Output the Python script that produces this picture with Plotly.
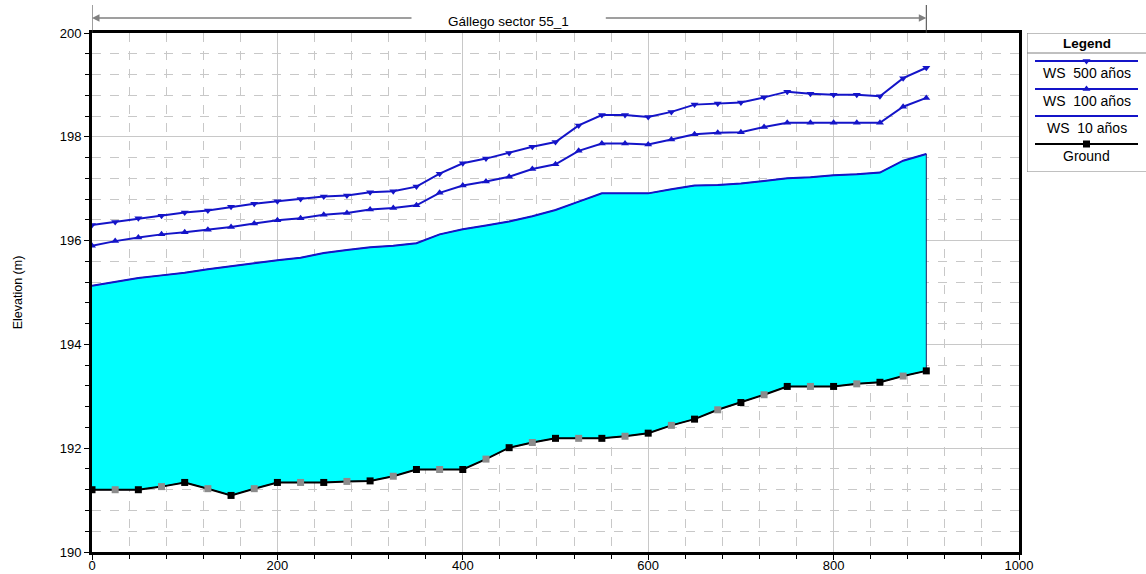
import plotly.graph_objects as go

# ---- data ----
station = [i * 25 for i in range(37)]
ground = [191.2, 191.2, 191.2, 191.26, 191.34, 191.22, 191.09, 191.22, 191.34, 191.34,
          191.34, 191.36, 191.37, 191.46, 191.59, 191.59, 191.59, 191.79, 192.01, 192.11,
          192.19, 192.19, 192.19, 192.23, 192.29, 192.44, 192.56, 192.74, 192.88, 193.03,
          193.19, 193.19, 193.19, 193.24, 193.27, 193.39, 193.49]
ws10 = [195.13, 195.21, 195.28, 195.33, 195.38, 195.45, 195.51, 195.56, 195.62, 195.67,
        195.76, 195.82, 195.87, 195.90, 195.95, 196.12, 196.22, 196.29, 196.37, 196.47,
        196.59, 196.75, 196.91, 196.91, 196.91, 196.99, 197.06, 197.07, 197.10, 197.15,
        197.20, 197.22, 197.26, 197.28, 197.31, 197.54, 197.67]
ws100 = [195.90, 195.99, 196.06, 196.12, 196.16, 196.21, 196.26, 196.33, 196.39, 196.43,
         196.50, 196.53, 196.60, 196.63, 196.68, 196.92, 197.06, 197.14, 197.23, 197.38,
         197.47, 197.73, 197.87, 197.87, 197.85, 197.95, 198.05, 198.08, 198.09, 198.19,
         198.27, 198.27, 198.27, 198.27, 198.27, 198.58, 198.75]
ws500 = [196.30, 196.36, 196.43, 196.48, 196.54, 196.58, 196.65, 196.71, 196.76, 196.80,
         196.85, 196.87, 196.93, 196.95, 197.04, 197.29, 197.49, 197.58, 197.69, 197.81,
         197.90, 198.22, 198.42, 198.42, 198.38, 198.48, 198.62, 198.64, 198.66, 198.76,
         198.87, 198.83, 198.81, 198.81, 198.78, 199.13, 199.33]
title_text = "Gállego sector 55_1"
legend_labels = ["WS  500 años", "WS  100 años", "WS  10 años", "Ground"]

BLUE = "#1414c8"
FONT = "Liberation Sans, Arial, sans-serif"

W, H = 1146, 574
ML, MR, MT, MB = 92, 0, 33, 22
PW = W - ML - MR
PH = H - MT - MB


def py(p):
    """pixel row -> paper y"""
    return (H - MB - p) / PH


fig = go.Figure()

# water fill polygon (cyan between ground and WS 10)
fig.add_trace(go.Scatter(
    x=station + station[::-1], y=ws10 + ground[::-1],
    fill="toself", fillcolor="#00FFFF", mode="lines",
    line=dict(color="#202060", width=1), hoverinfo="skip", showlegend=False))

fig.add_trace(go.Scatter(x=station, y=ws10, mode="lines",
                         line=dict(color=BLUE, width=2), showlegend=False))
fig.add_trace(go.Scatter(x=station, y=ws100, mode="lines+markers",
                         line=dict(color=BLUE, width=2),
                         marker=dict(symbol="triangle-up", size=7, color=BLUE),
                         showlegend=False))
fig.add_trace(go.Scatter(x=station, y=ws500, mode="lines+markers",
                         line=dict(color=BLUE, width=2),
                         marker=dict(symbol="triangle-down", size=7, color=BLUE),
                         showlegend=False))
ground_colors = ["#000000" if i % 2 == 0 else "#8c8c8c" for i in range(len(station))]
fig.add_trace(go.Scatter(x=station, y=ground, mode="lines+markers",
                         line=dict(color="#000000", width=2),
                         marker=dict(symbol="square", size=7, color=ground_colors),
                         showlegend=False))

# ---- custom legend in an overlay axis (pixel-like coordinates) ----
leg_line_y = [61, 89, 116, 144]
leg_text_y = [73, 101, 128, 156]
leg_colors = [BLUE, BLUE, BLUE, "#000000"]
leg_syms = ["triangle-down", "triangle-up", None, "square"]
for ly, c, s in zip(leg_line_y, leg_colors, leg_syms):
    fig.add_trace(go.Scatter(x=[1035, 1138], y=[ly, ly], mode="lines",
                             line=dict(color=c, width=2), xaxis="x2", yaxis="y2",
                             showlegend=False, hoverinfo="skip"))
    if s:
        fig.add_trace(go.Scatter(x=[1086.5], y=[ly], mode="markers",
                                 marker=dict(symbol=s, size=7, color=c),
                                 xaxis="x2", yaxis="y2", showlegend=False,
                                 hoverinfo="skip"))

annotations = []
annotations.append(dict(x=1086.5, y=43, xref="x2", yref="y2", text="<b>Legend</b>",
                        showarrow=False, yanchor="middle",
                        font=dict(family=FONT, size=13.5, color="#000")))
for ty, lab in zip(leg_text_y, legend_labels):
    annotations.append(dict(x=1086.5, y=ty, xref="x2", yref="y2", text=lab,
                            showarrow=False, yanchor="middle",
                            font=dict(family=FONT, size=14, color="#000")))

# title with arrows
annotations.append(dict(x=449, y=py(21.5), xref="x", yref="paper", text=title_text,
                        showarrow=False, yanchor="middle", xanchor="center",
                        font=dict(family=FONT, size=13.5, color="#000")))
annotations.append(dict(x=0, y=py(18), xref="x", yref="paper", text="",
                        showarrow=True, ax=321, ay=0, arrowhead=2, arrowsize=1,
                        arrowwidth=1.5, arrowcolor="#808080"))
annotations.append(dict(x=900, y=py(18), xref="x", yref="paper", text="",
                        showarrow=True, ax=-322, ay=0, arrowhead=2, arrowsize=1,
                        arrowwidth=1.5, arrowcolor="#808080"))

shapes = [
    # legend box
    dict(type="rect", xref="x2", yref="y2", x0=1027, x1=1146.5, y0=33, y1=172,
         line=dict(color="#808080", width=1)),
    dict(type="line", xref="x2", yref="y2", x0=1027, x1=1146.5, y0=53, y1=53,
         line=dict(color="#808080", width=1)),
    # vertical reach markers above plot
    dict(type="line", xref="x", yref="paper", x0=0, x1=0, y0=1, y1=py(5),
         line=dict(color="#404040", width=1)),
    dict(type="line", xref="x", yref="paper", x0=900, x1=900, y0=1, y1=py(5),
         line=dict(color="#404040", width=1)),
]

grid_c = "#c8c8c8"
tickfont = dict(family=FONT, size=13, color="#000")
fig.update_layout(
    width=W, height=H, autosize=False,
    margin=dict(l=ML, r=MR, t=MT, b=MB, pad=0, autoexpand=False),
    paper_bgcolor="white", plot_bgcolor="white",
    font=dict(family=FONT, size=12, color="#000"),
    showlegend=False,
    xaxis=dict(domain=[0, 927 / PW], range=[0, 1000], dtick=200, tick0=0,
               automargin=False, ticklabelstandoff=-6,
               showgrid=True, gridcolor=grid_c, gridwidth=1,
               ticks="outside", ticklen=5, tickcolor="#000",
               showline=True, linecolor="#000", linewidth=3, mirror=True,
               zeroline=False,
               minor=dict(dtick=40, showgrid=True, gridcolor=grid_c, griddash="dash",
                          ticks="outside", ticklen=4, tickcolor="#000"),
               tickfont=tickfont),
    yaxis=dict(range=[190, 200], dtick=2, tick0=190, automargin=False,
               showgrid=True, gridcolor=grid_c, gridwidth=1,
               ticks="outside", ticklen=5, tickcolor="#000",
               showline=True, linecolor="#000", linewidth=3, mirror=True,
               zeroline=False,
               minor=dict(dtick=0.4, showgrid=True, gridcolor=grid_c, griddash="dash",
                          ticks="outside", ticklen=4, tickcolor="#000"),
               title=dict(text="Elevation (m)", standoff=35,
                          font=dict(family=FONT, size=12.5, color="#000")),
               tickfont=tickfont),
    xaxis2=dict(domain=[935 / PW, 1.0], range=[1027, 1146], visible=False,
                anchor="y2", fixedrange=True, automargin=False),
    yaxis2=dict(domain=[py(172), 1.0], range=[172, 33], visible=False,
                anchor="x2", fixedrange=True, automargin=False),
    annotations=annotations,
    shapes=shapes,
)

fig.write_html("out.html")
